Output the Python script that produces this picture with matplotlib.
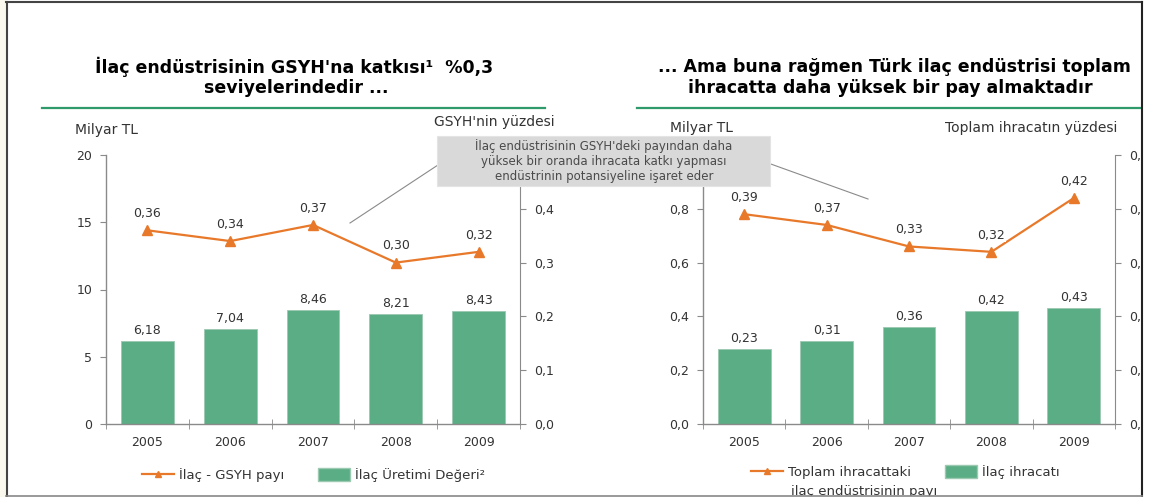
import matplotlib
matplotlib.use("Agg")
from matplotlib import pyplot as plt
from matplotlib.patches import Rectangle
from matplotlib.lines import Line2D
import numpy as np

# ---- data
years = ['2005', '2006', '2007', '2008', '2009']

uretim = [6.18, 7.04, 8.46, 8.21, 8.43]            # Milyar TL
uretim_lbl = ['6,18', '7,04', '8,46', '8,21', '8,43']
gsyh_pay = [0.36, 0.34, 0.37, 0.30, 0.32]          # GSYH'nin yuzdesi
gsyh_lbl = ['0,36', '0,34', '0,37', '0,30', '0,32']

ihracat = [0.28, 0.31, 0.36, 0.42, 0.43]           # Milyar TL (bar heights as drawn)
ihracat_lbl = ['0,23', '0,31', '0,36', '0,42', '0,43']
ihr_pay = [0.39, 0.37, 0.33, 0.32, 0.42]           # toplam ihracatin yuzdesi
ihr_lbl = ['0,39', '0,37', '0,33', '0,32', '0,42']

left_ticks = [0, 5, 10, 15, 20]
left_ticks2 = [0.0, 0.2, 0.4, 0.6, 0.8, 1.0]
pct_ticks = [0.0, 0.1, 0.2, 0.3, 0.4, 0.5]

GREEN = '#5aad84'
ORANGE = '#e8792a'
SPINE = '#8a8a8a'
TXT = '#333333'
LINEGREEN = '#2f9a6c'
FS = 9

W, H = 1149, 497
fig = plt.figure(figsize=(W / 100, H / 100), dpi=100)
fig.patch.set_facecolor('white')
plt.rcParams['font.family'] = ['DejaVu Sans']


def fx(x):
	return x / W


def fy(y):
	return 1 - y / H


def px_axes(x0, y0, x1, y1):
	return fig.add_axes([fx(x0), fy(y1), fx(x1 - x0), (y1 - y0) / H])


def comma(v):
	return ('%.1f' % v).replace('.', ',')


def draw_chart(ax, bars, bar_lbl, line, line_lbl, lticks, lfmt, ltop, hide_left_top, hide_right_top):
	x = np.arange(len(years))
	ax.bar(x, bars, width=0.64, color=GREEN, edgecolor='#9cc9b2', linewidth=0.6, zorder=2)
	ax.set_xlim(-0.5, len(years) - 0.5)
	ax.set_ylim(0, ltop)
	ax.set_yticks(lticks)
	lab = [lfmt(t) for t in lticks]
	if hide_left_top:
		lab[-1] = ''   # sits under the callout box
	ax.set_yticklabels(lab)
	ax.set_xticks(x)
	ax.set_xticklabels(years)
	ax.set_xticks(np.arange(len(years) + 1) - 0.5, minor=True)
	ax.tick_params(axis='x', which='major', length=0, pad=9, labelsize=FS, labelcolor=TXT)
	ax.tick_params(axis='x', which='minor', length=7, direction='inout', color=SPINE)
	ax.tick_params(axis='y', length=4, direction='out', color=SPINE, labelsize=FS, labelcolor=TXT, pad=6)
	for s in ['top', 'right']:
		ax.spines[s].set_visible(False)
	for s in ['left', 'bottom']:
		ax.spines[s].set_color(SPINE)
		ax.spines[s].set_linewidth(1.0)
	for i, (v, t) in enumerate(zip(bars, bar_lbl)):
		ax.annotate(t, (i, v), xytext=(0, 7.5), textcoords='offset points',
			ha='center', va='center', fontsize=FS, color=TXT)

	ax2 = ax.twinx()
	ax2.set_ylim(0, 0.5)
	ax2.set_yticks(pct_ticks)
	lab = [comma(t) for t in pct_ticks]
	if hide_right_top:
		lab[-1] = ''
	ax2.set_yticklabels(lab)
	ax2.tick_params(axis='y', length=4, direction='out', color=SPINE, labelsize=FS, labelcolor=TXT, pad=6)
	for s in ['top', 'left', 'bottom']:
		ax2.spines[s].set_visible(False)
	ax2.spines['right'].set_color(SPINE)
	ax2.plot(x, line, color=ORANGE, lw=1.6, marker='^', markersize=7, zorder=3)
	for i, (v, t) in enumerate(zip(line, line_lbl)):
		ax2.annotate(t, (i, v), xytext=(0, 12), textcoords='offset points',
			ha='center', va='center', fontsize=FS, color=TXT,
			bbox=dict(boxstyle='square,pad=0.05', fc='white', ec='none'))
	return ax2


# ---- left chart
axl = px_axes(106, 155, 520, 424)
draw_chart(axl, uretim, uretim_lbl, gsyh_pay, gsyh_lbl, left_ticks,
	lambda t: '%d' % t, 20, False, True)

# ---- right chart
axr = px_axes(703, 155, 1115, 424)
draw_chart(axr, ihracat, ihracat_lbl, ihr_pay, ihr_lbl, left_ticks2,
	comma, 1.0, True, False)

# ---- titles
tkw = dict(ha='center', va='center', fontsize=12.5, fontweight='bold', color='black')
fig.text(fx(294), fy(67), "İlaç endüstrisinin GSYH'na katkısı¹  %0,3", **tkw)
fig.text(fx(296), fy(88), "seviyelerindedir ...", **tkw)
fig.text(fx(894), fy(67), "... Ama buna rağmen Türk ilaç endüstrisi toplam", **tkw)
fig.text(fx(890), fy(88), "ihracatta daha yüksek bir pay almaktadır", **tkw)
fig.add_artist(Line2D([fx(42), fx(545)], [fy(108), fy(108)], color=LINEGREEN, lw=1.6))
fig.add_artist(Line2D([fx(637), fx(1149)], [fy(108), fy(108)], color=LINEGREEN, lw=1.6))

# ---- axis titles
lkw = dict(fontsize=10, color=TXT, va='center')
fig.text(fx(75), fy(130), 'Milyar TL', ha='left', **lkw)
fig.text(fx(555), fy(122), "GSYH'nin yüzdesi", ha='right', **lkw)
fig.text(fx(670), fy(128), 'Milyar TL', ha='left', **lkw)
fig.text(fx(945), fy(128), 'Toplam ihracatın yüzdesi', ha='left', **lkw)

# ---- callout
fig.add_artist(Line2D([fx(441), fx(350)], [fy(163), fy(223)], color='#8a8a8a', lw=0.8, zorder=9))
fig.add_artist(Line2D([fx(768), fx(868)], [fy(163), fy(199)], color='#8a8a8a', lw=0.8, zorder=9))
fig.patches.append(Rectangle((fx(437), fy(186)), fx(770 - 437), (186 - 136) / H,
	transform=fig.transFigure, fc='#d9d9d9', ec='#e4e4e4', lw=0.8, zorder=10))
fig.text(fx(604), fy(161), "İlaç endüstrisinin GSYH'deki payından daha\nyüksek bir oranda ihracata katkı yapması\nendüstrinin potansiyeline işaret eder",
	ha='center', va='center', fontsize=8.5, color='#4a4a4a', linespacing=1.22, zorder=11)

# ---- legends
h_line = Line2D([], [], color=ORANGE, lw=1.6, marker='^', markersize=5)
h_bar = Rectangle((0, 0), 1, 1, fc=GREEN, ec='#9cc9b2')
lg = dict(ncol=2, frameon=False, fontsize=9.5, handlelength=2.4, handleheight=1.2,
	handletextpad=0.4, columnspacing=2.6, labelcolor=TXT, bbox_transform=fig.transFigure)
axl.legend([h_line, h_bar], ['İlaç - GSYH payı', 'İlaç Üretimi Değeri²'],
	loc='center left', bbox_to_anchor=(fx(130), fy(475)), **lg)
axr.legend([h_line, h_bar], ['Toplam ihracattaki', 'İlaç ihracatı'],
	loc='center left', bbox_to_anchor=(fx(739), fy(472)), **lg)
fig.text(fx(791), fy(491), 'ilaç endüstrisinin payı', ha='left', va='center', fontsize=9.5, color=TXT)

# ---- slide frame
fig.patches.append(Rectangle((fx(1142), 0), fx(W - 1142), 1, transform=fig.transFigure,
	fc='white', ec='none', zorder=30))
fig.patches.append(Rectangle((0, 0), 1, 1.5 / H, transform=fig.transFigure,
	fc='white', ec='none', zorder=30))
fig.patches.append(Rectangle((0, 0), fx(5.5), 1, transform=fig.transFigure,
	fc='#fbf8ee', ec='none', zorder=30))
fig.add_artist(Line2D([fx(6.5), fx(6.5)], [fy(1.5), fy(495.5)], color='#444444', lw=1.5, zorder=31))
fig.add_artist(Line2D([fx(6), fx(1141.5)], [fy(1.5), fy(1.5)], color='#444444', lw=1.5, zorder=31))
fig.add_artist(Line2D([fx(1141.5), fx(1141.5)], [fy(1.5), fy(495.5)], color='#222222', lw=1.5, zorder=31))
fig.add_artist(Line2D([fx(6), fx(1141.5)], [fy(495.5), fy(495.5)], color='#888888', lw=1.2, zorder=31))

fig.savefig('out.png', dpi=100)
